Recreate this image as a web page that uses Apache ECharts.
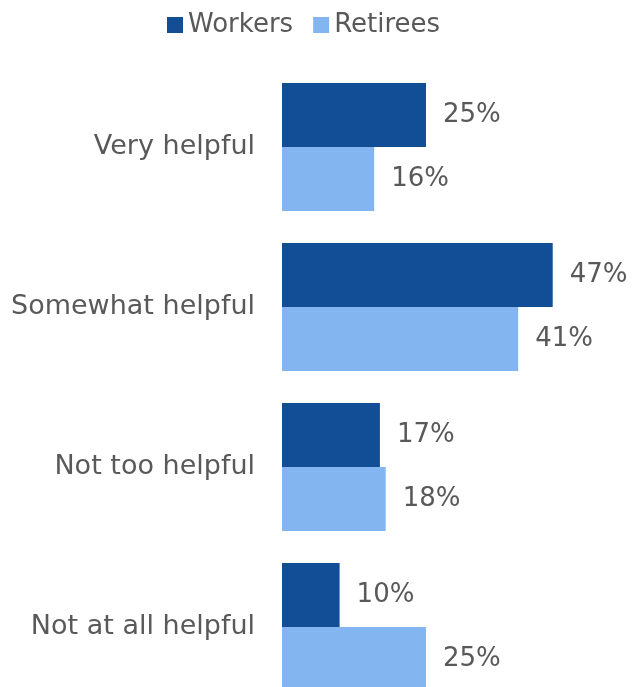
<!DOCTYPE html>
<html>
<head>
<meta charset="utf-8">
<script src="https://cdn.jsdelivr.net/npm/echarts@6/dist/echarts.min.js"></script>
<style>html,body{margin:0;padding:0;background:#fff;}#c{width:633px;height:687px;}</style>
</head>
<body>
<div id="c"></div>
<script>
const categories = ["Very helpful", "Somewhat helpful", "Not too helpful", "Not at all helpful"];
const workers = [25, 47, 17, 10];
const retirees = [16, 41, 18, 25];
const seriesNames = ["Workers", "Retirees"];

const FONT = "DejaVu Sans";
const TXT = "#595959";
const chart = echarts.init(document.getElementById('c'), null, {renderer: 'canvas'});
const lbl = {show: true, position: 'right', distance: 17, formatter: '{c}%', color: TXT, fontFamily: FONT, fontSize: 26};
chart.setOption({
  animation: false,
  legend: {
    data: seriesNames, left: 167, top: 12, padding: 0, itemWidth: 16, itemHeight: 16, itemGap: 20, icon: 'rect',
    textStyle: {color: TXT, fontFamily: FONT, fontSize: 26}
  },
  grid: {left: 282, top: 67, width: 345.6, height: 640, containLabel: false, outerBoundsMode: 'none'},
  xAxis: {type: 'value', min: 0, max: 60, show: false},
  yAxis: {type: 'category', data: categories, inverse: true,
    axisLine: {show: false}, axisTick: {show: false},
    axisLabel: {color: TXT, fontFamily: FONT, fontSize: 27, margin: 27}},
  series: [
    {name: seriesNames[0], type: 'bar', data: workers, barGap: '0%', barCategoryGap: '20%', itemStyle: {color: '#114E96'}, label: lbl},
    {name: seriesNames[1], type: 'bar', data: retirees, barGap: '0%', barCategoryGap: '20%', itemStyle: {color: '#83B6F0'}, label: lbl}
  ]
});
</script>
</body>
</html>
